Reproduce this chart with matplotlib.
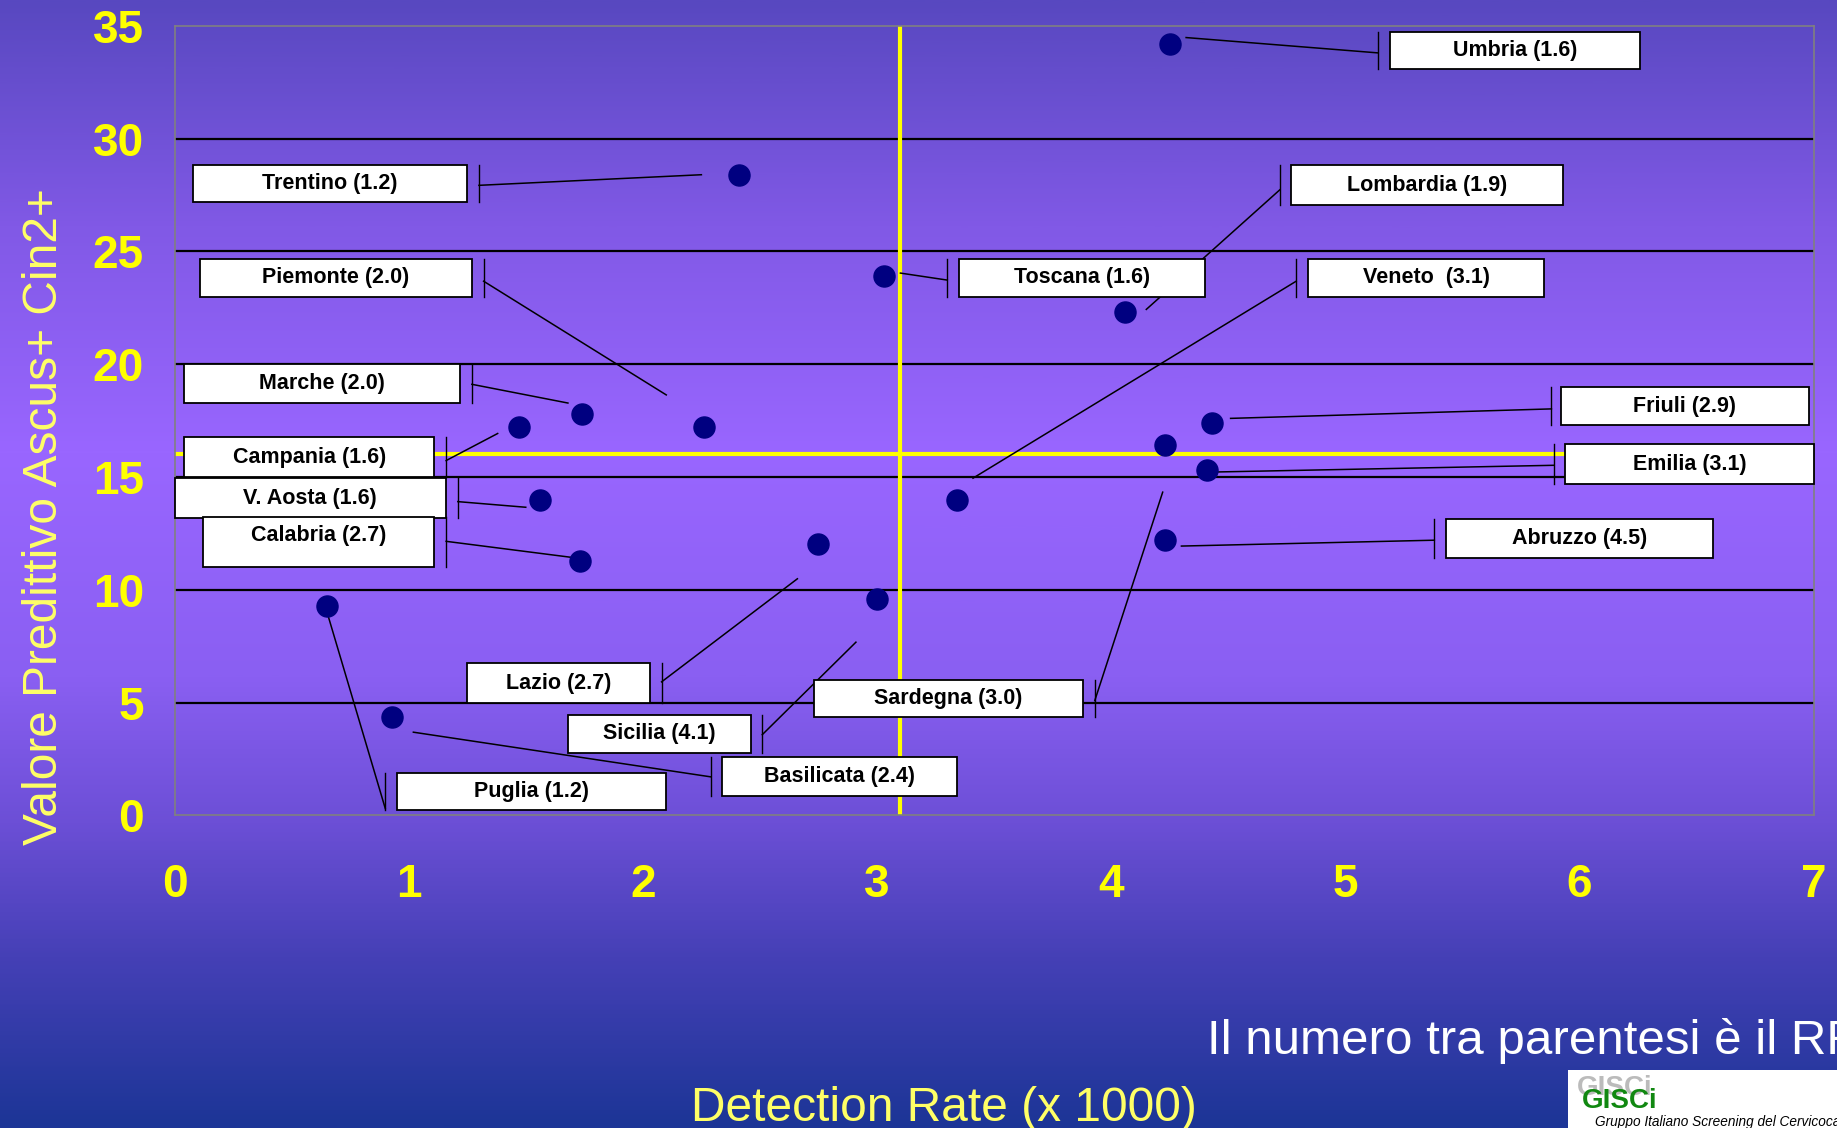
import numpy as np
import matplotlib
matplotlib.use("Agg")
import matplotlib.pyplot as plt
from matplotlib.colors import LinearSegmentedColormap
from matplotlib.patches import Rectangle

plt.rcParams["font.family"] = ["Liberation Sans", "DejaVu Sans"]

# Data: detection rate (x1000) vs PPV Ascus+ Cin2+, RR in brackets
regions = ["Umbria", "Trentino", "Lombardia", "Toscana", "Piemonte", "Veneto",
           "Marche", "Friuli", "Campania", "Emilia", "V. Aosta", "Calabria",
           "Abruzzo", "Lazio", "Sardegna", "Sicilia", "Basilicata", "Puglia"]
rr = ["1.6", "1.2", "1.9", "1.6", "2.0", "3.1", "2.0", "2.9", "1.6", "3.1",
      "1.6", "2.7", "4.5", "2.7", "3.0", "4.1", "2.4", "1.2"]
detection_rate = [4.25, 2.41, 4.06, 3.03, 2.26, 3.34, 1.74, 4.43, 1.47, 4.41,
                  1.56, 1.73, 4.23, 2.75, 4.23, 3.00, 0.93, 0.65]
ppv = [34.2, 28.4, 22.3, 23.9, 17.2, 14.0, 17.8, 17.4, 17.2, 15.3,
       14.0, 11.3, 12.2, 12.05, 16.4, 9.6, 4.36, 9.3]

ref_x = 3.1   # mean detection rate
ref_y = 16    # mean PPV

x_ticks = [0, 1, 2, 3, 4, 5, 6, 7]
y_ticks = [0, 5, 10, 15, 20, 25, 30, 35]

# label layout: box x0, x1, y0, y1, bracket x, leader start y, leader end x, y
layout = {
    "Umbria":     (5.19, 6.26, 33.07, 34.74, 5.14, 33.80, 4.32, 34.48),
    "Trentino":   (0.08, 1.25, 27.21, 28.82, 1.30, 27.93, 2.25, 28.40),
    "Lombardia":  (4.77, 5.93, 27.05, 28.82, 4.72, 27.73, 4.15, 22.43),
    "Toscana":    (3.35, 4.40, 23.00, 24.66, 3.30, 23.73, 3.10, 24.04),
    "Piemonte":   (0.11, 1.27, 23.00, 24.66, 1.32, 23.68, 2.10, 18.64),
    "Veneto":     (4.84, 5.85, 23.00, 24.66, 4.79, 23.68, 3.41, 14.95),
    "Marche":     (0.04, 1.22, 18.28, 19.99, 1.27, 19.11, 1.68, 18.28),
    "Friuli":     (5.92, 6.98, 17.29, 19.00, 5.88, 18.02, 4.51, 17.60),
    "Campania":   (0.04, 1.11, 15.00, 16.77, 1.16, 15.73, 1.38, 16.93),
    "Emilia":     (5.94, 7.00, 14.69, 16.46, 5.89, 15.52, 4.38, 15.21),
    "Calabria":   (0.12, 1.11, 11.01, 13.24, 1.16, 12.15, 1.71, 11.42),
    "V. Aosta":   (0.00, 1.16, 13.19, 14.95, 1.21, 13.91, 1.50, 13.66),
    "Abruzzo":    (5.43, 6.57, 11.42, 13.14, 5.38, 12.20, 4.30, 11.94),
    "Lazio":      (1.25, 2.03, 4.98, 6.75, 2.08, 5.92, 2.66, 10.49),
    "Sardegna":   (2.73, 3.88, 4.36, 6.02, 3.93, 5.09, 4.22, 14.33),
    "Sicilia":    (1.68, 2.46, 2.75, 4.47, 2.51, 3.58, 2.91, 7.68),
    "Basilicata": (2.34, 3.34, 0.88, 2.60, 2.29, 1.71, 1.02, 3.69),
    "Puglia":     (0.95, 2.10, 0.26, 1.87, 0.90, 0.31, 0.655, 8.88),
}

fig = plt.figure(figsize=(18.37, 11.28), dpi=100)

# slide background gradient
bg = fig.add_axes([0, 0, 1, 1], zorder=-10)
cmap = LinearSegmentedColormap.from_list("slide", [
    (0.0, "#5848c0"), (0.20, "#8159e6"), (0.40, "#9966ff"), (0.60, "#8a5ff2"),
    (0.73, "#6c4fd6"), (0.85, "#4540b6"), (1.0, "#1c3596")])
grad = np.linspace(0, 1, 512).reshape(-1, 1)
bg.imshow(grad, aspect="auto", cmap=cmap, extent=[0, 1, 0, 1])
bg.axis("off")

ax = fig.add_axes([0.0950, 0.2771, 0.8923, 0.7000])
ax.patch.set_alpha(0)
ax.set_xlim(0, 7)
ax.set_ylim(0, 35)
for s in ax.spines.values():
    s.set_color("#808080")
    s.set_linewidth(1.2)

for y in y_ticks[1:-1]:
    ax.axhline(y, color="black", lw=1.6, zorder=1)
ax.axhline(ref_y, color="#ffff00", lw=3, zorder=2)
ax.axvline(ref_x, color="#ffff00", lw=3, zorder=2)

ax.set_xticks(x_ticks)
ax.set_yticks(y_ticks)
ax.tick_params(length=0, labelcolor="#ffff00", labelsize=33)
ax.tick_params(axis="x", pad=34)
ax.tick_params(axis="y", pad=22)
for t in ax.get_xticklabels() + ax.get_yticklabels():
    t.set_fontweight("bold")

ax.scatter(detection_rate, ppv, s=230, color="#000080", zorder=5)

for name, r in zip(regions, rr):
    x0, x1, y0, y1, bx, ly, ex, ey = layout[name]
    ax.plot([bx, bx], [y0, y1], color="black", lw=1, zorder=3, clip_on=False)
    ax.plot([bx, ex], [ly, ey], color="black", lw=1.1, zorder=3, clip_on=False)
    ax.add_patch(Rectangle((x0, y0), x1 - x0, y1 - y0, facecolor="white",
                           edgecolor="black", lw=1.3, zorder=4, clip_on=False))
    text = f"{name} ({r})" if name != "Veneto" else f"{name}  ({r})"
    ty = (y0 + y1) / 2 if name != "Calabria" else 12.41
    ax.text((x0 + x1) / 2, ty, text, ha="center", va="center", fontsize=15.5,
            fontweight="bold", color="black", zorder=6)

fig.text(0.024, 0.542, "Valore Predittivo Ascus+ Cin2+", rotation=90,
         ha="center", va="center", fontsize=34.5, color="#ffff66")
fig.text(0.514, 0.006, "Detection Rate (x 1000)", ha="center", va="baseline",
         fontsize=34.5, color="#ffff66")
fig.text(0.657, 0.0656, "Il numero tra parentesi è il RR", ha="left",
         va="baseline", fontsize=35.5, color="white")

# GISCi logo box
fig.patches.append(Rectangle((0.8536, 0), 0.1464, 0.0514, transform=fig.transFigure,
                             facecolor="white", edgecolor="none", zorder=5))
fig.text(0.8585, 0.029, "GISCi", fontsize=20, fontweight="bold",
         color="#bbbbbb", zorder=6)
fig.text(0.8612, 0.018, "GISCi", fontsize=20, fontweight="bold",
         color="#118811", zorder=7)
fig.text(0.868, 0.002, "Gruppo Italiano Screening del Cervicocarcinoma",
         fontsize=9.8, style="italic", color="black", zorder=7)

fig.savefig("out.png", dpi=100)
